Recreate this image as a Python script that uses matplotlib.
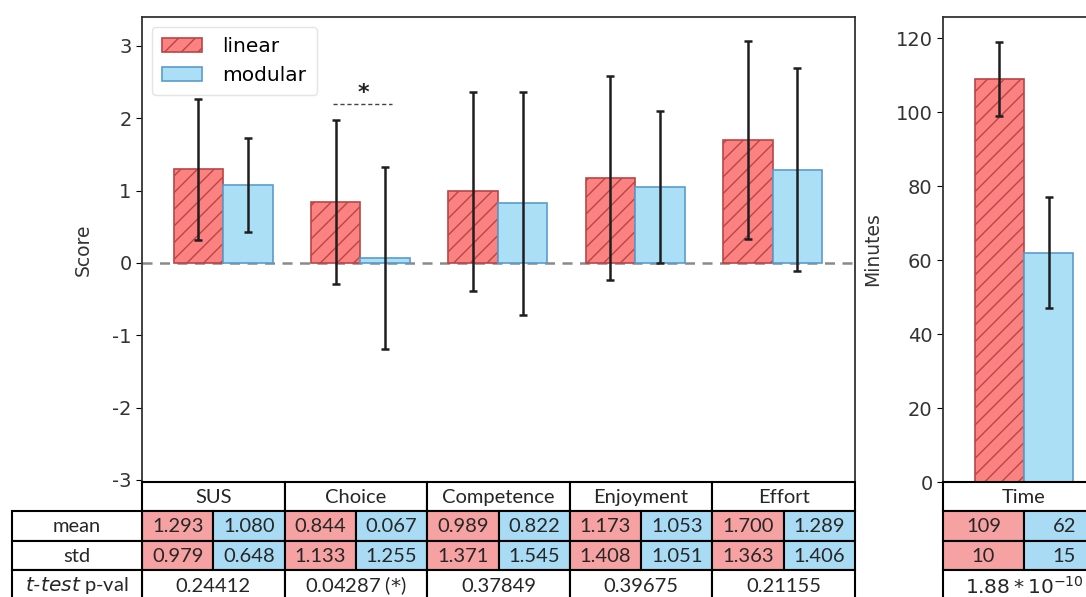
import matplotlib.pyplot as plt
from matplotlib.patches import Rectangle
import numpy as np

plt.rcParams['axes.unicode_minus'] = False
plt.rcParams['hatch.color'] = '#a03a3a'
plt.rcParams['hatch.linewidth'] = 1.0

categories = ['SUS', 'Choice', 'Competence', 'Enjoyment', 'Effort']
linear_mean = [1.293, 0.844, 0.989, 1.173, 1.700]
modular_mean = [1.080, 0.067, 0.822, 1.053, 1.289]
linear_std = [0.979, 1.133, 1.371, 1.408, 1.363]
modular_std = [0.648, 1.255, 1.545, 1.051, 1.406]
pvals = ['0.24412', '0.04287 ($*$)', '0.37849', '0.39675', '0.21155']

time_label = 'Time'
time_mean = [109, 62]
time_std = [10, 15]
time_pval = r'$1.88 * 10^{-10}$'

RED = '#fc8282'
RED_EDGE = '#b84646'
BLUE = '#abdff5'
BLUE_EDGE = '#5a9ccc'
CELL_RED = '#f6a2a2'
CELL_BLUE = '#a9dcf4'
W = 0.36

W_PX, H_PX = 1086, 597
fig = plt.figure(figsize=(W_PX / 100, H_PX / 100), dpi=100)


def frac(x0, y0, x1, y1):
    return [x0 / W_PX, 1 - y1 / H_PX, (x1 - x0) / W_PX, (y1 - y0) / H_PX]


ax1 = fig.add_axes(frac(142, 17, 855, 482))
ax2 = fig.add_axes(frac(943, 17, 1105, 482))

eb = dict(fmt='none', ecolor='#1e1e1e', capsize=3, elinewidth=1.8, capthick=1.8)

x = np.arange(len(categories))
ax1.bar(x - W / 2, linear_mean, W, color=RED, edgecolor=RED_EDGE, hatch='//', linewidth=1.2, label='linear')
ax1.bar(x + W / 2, modular_mean, W, color=BLUE, edgecolor=BLUE_EDGE, linewidth=1.2, label='modular')
ax1.errorbar(x - W / 2, linear_mean, yerr=linear_std, **eb)
ax1.errorbar(x + W / 2, modular_mean, yerr=modular_std, **eb)
ax1.axhline(0, color='#8a8a8a', ls='--', lw=1.8, dashes=(4, 3), zorder=0)

# significance marker on Choice
ax1.plot([1 - 0.2, 1 + 0.23], [2.2, 2.2], color='#444444', ls='--', lw=1, dashes=(3, 2))
ax1.text(1.02, 2.21, '*', ha='center', va='bottom', fontsize=16, fontweight='bold', color='#222222')

ax1.set_xlim(-0.59, 4.6)
ax1.set_ylim(-3.03, 3.4)
ax1.set_yticks([-3, -2, -1, 0, 1, 2, 3])
ax1.set_xticks([])
ax1.set_ylabel('Score', fontsize=13.5, color='#333333', labelpad=14)
ax1.tick_params(axis='y', labelsize=14, labelcolor='#333333', length=4)
leg = ax1.legend(loc='upper left', fontsize=14.5, handlelength=2.0, borderpad=0.5,
                 labelspacing=0.5, handletextpad=1.0, framealpha=1, edgecolor='#e4e4e4', fancybox=True)
leg.set_zorder(10)

ax2.bar([-W / 2], [time_mean[0]], W, color=RED, edgecolor=RED_EDGE, hatch='//', linewidth=1.2)
ax2.bar([W / 2], [time_mean[1]], W, color=BLUE, edgecolor=BLUE_EDGE, linewidth=1.2)
ax2.errorbar([-W / 2, W / 2], time_mean, yerr=time_std, **eb)
ax2.set_xlim(-0.59, 0.59)
ax2.set_ylim(0, 125.7)
ax2.set_yticks([0, 20, 40, 60, 80, 100, 120])
ax2.set_xticks([])
ax2.set_ylabel('Minutes', fontsize=13.5, color='#333333', labelpad=10)
ax2.tick_params(axis='y', labelsize=14, labelcolor='#333333', length=4)

for ax in (ax1, ax2):
    for s in ax.spines.values():
        s.set_color('#333333')
        s.set_linewidth(1.3)

# table drawn in pixel coordinates under the axes
tab = fig.add_axes([0, 0, 1, 1], zorder=5)
tab.set_xlim(0, W_PX)
tab.set_ylim(H_PX, 0)
tab.axis('off')

rows = [482, 511, 541, 570, 600]
TFONT = 'Lato'
TSIZE = 14.5


def cell(x0, x1, y0, y1, text='', fc='white', **kw):
    tab.add_patch(Rectangle((x0, y0), x1 - x0, y1 - y0, facecolor=fc, edgecolor='black', lw=1.5))
    tab.text((x0 + x1) / 2, (y0 + y1) / 2 + 1, text, ha='center', va='center',
             fontsize=TSIZE, family=TFONT, color='#262626', **kw)


def block(x0, x1, label, means, stds, pval):
    mid = (x0 + x1) / 2
    cell(x0, x1, rows[0], rows[1], label)
    cell(x0, mid, rows[1], rows[2], means[0], CELL_RED)
    cell(mid, x1, rows[1], rows[2], means[1], CELL_BLUE)
    cell(x0, mid, rows[2], rows[3], stds[0], CELL_RED)
    cell(mid, x1, rows[2], rows[3], stds[1], CELL_BLUE)
    cell(x0, x1, rows[3], rows[4], pval)


left0, left1 = 142, 855
colw = (left1 - left0) / len(categories)
for i, c in enumerate(categories):
    block(left0 + i * colw, left0 + (i + 1) * colw, c,
          ['%.3f' % linear_mean[i], '%.3f' % modular_mean[i]],
          ['%.3f' % linear_std[i], '%.3f' % modular_std[i]], pvals[i])

block(943, 1105, time_label, [str(v) for v in time_mean], [str(v) for v in time_std], time_pval)

cell(12, 142, rows[1], rows[2], 'mean')
cell(12, 142, rows[2], rows[3], 'std')
cell(12, 142, rows[3], rows[4], r'$\mathit{t}$-$\mathit{test}$ p-val')

plt.savefig('out.png', dpi=100)
